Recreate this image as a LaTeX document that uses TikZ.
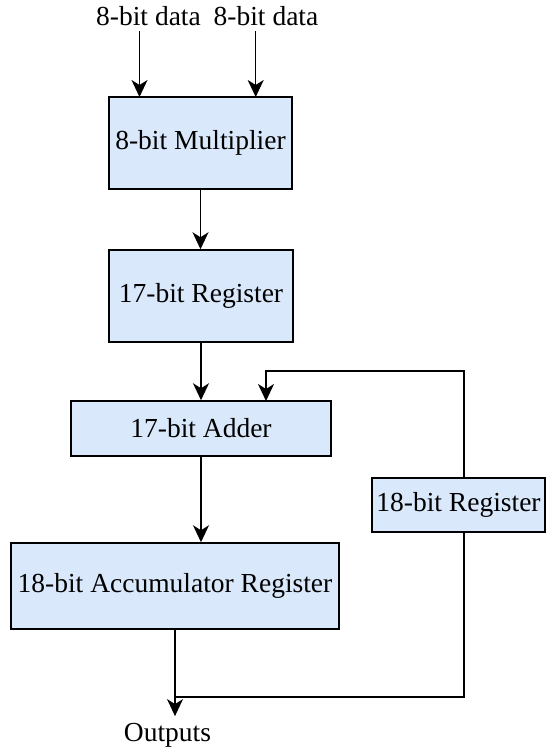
\documentclass[tikz,border=0pt]{standalone}
\usepackage{fontspec}
\setmainfont{Liberation Serif}
\usetikzlibrary{arrows.meta}
\definecolor{boxfill}{HTML}{DAE8FC}
\begin{document}
\begin{tikzpicture}[x=1pt,y=-1pt,
  font=\fontsize{27.5}{33}\selectfont,
  block/.style={draw=black, line width=1.5pt, fill=boxfill, inner sep=0pt},
  wire/.style={line width=1.5pt},
  flow/.style={wire, -{Stealth[length=17pt,width=16pt,inset=5pt]}},
  label/.style={inner sep=0pt, anchor=base}]
\useasboundingbox (0,0) rectangle (546,747);

% blocks
\node[block, minimum width=183pt, minimum height=92pt] (mult) at (200.5,143) {8-bit Multiplier};
\node[block, minimum width=184pt, minimum height=92pt] (reg17) at (201,296) {17-bit Register};
\node[block, minimum width=260pt, minimum height=55pt] (adder) at (201,428.5) {17-bit Adder};
\node[block, minimum width=328pt, minimum height=86pt] (acc) at (175,586) {18-bit Accumulator Register};
\node[block, minimum width=173pt, minimum height=54pt] (reg18) at (458.5,505) {18-bit Register};

% input and output labels
\node[label] (dataA) at (148.5,25) {8-bit data};
\node[label] (dataB) at (266,25) {8-bit data};
\node[label] (out) at (167.5,741) {Outputs};

% connection points
\coordinate (inA) at (139.5,97);
\coordinate (inB) at (255.7,97);
\coordinate (fbx) at (266,401);
\coordinate (fbtop) at (464,371);
\coordinate (join) at (175.5,697);

% data path
\draw[flow, shorten <=6pt] (dataA.south -| inA) -- (inA);
\draw[flow, shorten <=6pt] (dataB.south -| inB) -- (inB);
\draw[flow] (mult.south) -- (mult.south |- reg17.north);
\draw[flow] (reg17.south) -- (reg17.south |- adder.north);
\draw[flow] (adder.south) -- (adder.south |- acc.north);
\draw[flow, shorten >=6.5pt] (acc.south) -- (acc.south |- out.north);

% feedback loop through the 18-bit register
\draw[flow] (reg18.north -| fbtop) -- (fbtop) -- (fbtop -| fbx) -- (fbx);
\draw[wire] (reg18.south -| fbtop) -- (fbtop |- join) -- (join);
\end{tikzpicture}
\end{document}
